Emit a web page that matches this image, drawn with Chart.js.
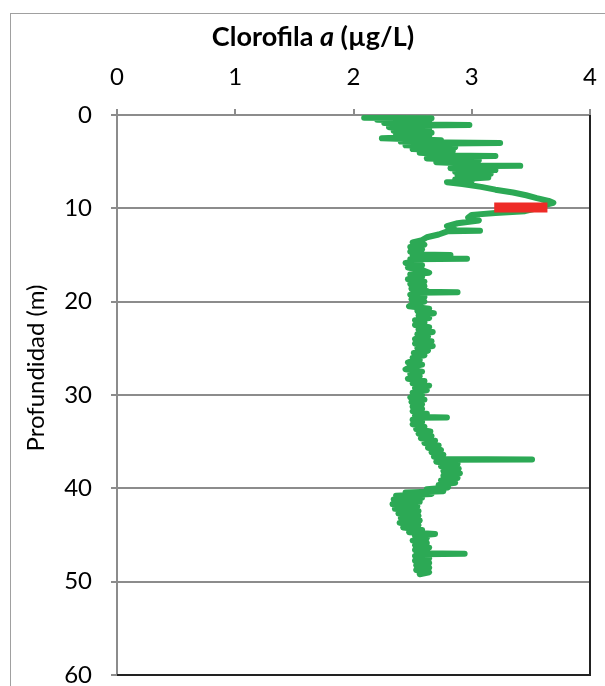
<!DOCTYPE html>
<html>
<head>
<meta charset="utf-8">
<script src="https://cdn.jsdelivr.net/npm/chart.js@4.4.1/dist/chart.umd.min.js"></script>
<style>
  html, body { margin: 0; padding: 0; background: #fff; overflow: hidden; }
  #wrap { width: 605px; height: 686px; }
  canvas { display: block; }
</style>
</head>
<body>
<div id="wrap"><canvas id="profileChart" width="605" height="686"></canvas></div>
<script>
// depth profile (m) and chlorophyll a (ug/L) top to bottom
const depthM = [
  0.30, 0.35, 0.50, 0.70, 0.85, 1.02, 1.07, 1.12, 1.30, 1.50,
  1.70, 1.90, 2.10, 2.30, 2.50, 2.70, 2.85, 2.95, 3.00, 3.05,
  3.25, 3.45, 3.65, 3.85, 4.05, 4.25, 4.35, 4.40, 4.45, 4.65,
  4.85, 5.05, 5.25, 5.40, 5.45, 5.50, 5.70, 5.90, 6.10, 6.30,
  6.50, 6.70, 6.90, 7.10, 7.20, 7.40, 7.70, 8.00, 8.30, 8.60,
  8.90, 9.20, 9.40, 9.70, 10.0, 10.3, 10.5, 10.7, 11.0, 11.3,
  11.6, 11.9, 12.2, 12.35, 12.4, 12.45, 12.8, 13.1, 13.4, 13.65,
  13.9, 14.15, 14.4, 14.65, 14.95, 15.0, 15.05, 15.2, 15.35, 15.4,
  15.45, 15.65, 15.85, 16.1, 16.35, 16.6, 16.9, 17.1, 17.35, 17.6,
  17.85, 18.1, 18.35, 18.6, 18.85, 18.95, 19.0, 19.05, 19.25, 19.5,
  19.75, 20.0, 20.25, 20.5, 20.75, 21.0, 21.25, 21.5, 21.75, 22.0,
  22.25, 22.5, 22.75, 23.0, 23.25, 23.5, 23.75, 24.0, 24.25, 24.5,
  24.75, 25.0, 25.25, 25.5, 25.75, 26.0, 26.25, 26.5, 26.75, 27.0,
  27.25, 27.5, 27.75, 28.0, 28.25, 28.5, 28.75, 29.0, 29.25, 29.5,
  29.75, 30.0, 30.25, 30.5, 30.75, 31.0, 31.25, 31.5, 31.75, 32.0,
  32.2, 32.35, 32.4, 32.45, 32.65, 32.9, 33.15, 33.4, 33.65, 33.9,
  34.15, 34.4, 34.65, 34.9, 35.15, 35.4, 35.65, 35.9, 36.15, 36.4,
  36.6, 36.85, 36.9, 36.95, 37.15, 37.4, 37.65, 37.9, 38.15, 38.4,
  38.65, 38.9, 39.15, 39.4, 39.65, 39.9, 40.1, 40.3, 40.45, 40.6,
  40.8, 41.0, 41.2, 41.45, 41.7, 41.95, 42.2, 42.45, 42.7, 42.95,
  43.2, 43.45, 43.7, 43.95, 44.2, 44.45, 44.7, 44.9, 45.1, 45.35,
  45.6, 45.85, 46.1, 46.35, 46.6, 46.85, 46.95, 47.0, 47.05, 47.25,
  47.5, 47.75, 48.0, 48.25, 48.5, 48.75, 49.0, 49.2
]
const chlA = [
  2.09, 2.66, 2.20, 2.64, 2.26, 2.60, 2.98, 2.58, 2.30, 2.64,
  2.34, 2.66, 2.36, 2.64, 2.24, 2.74, 2.40, 2.80, 3.24, 2.80,
  2.44, 2.86, 2.50, 2.84, 2.56, 2.82, 2.78, 3.20, 2.78, 2.62,
  3.06, 2.70, 3.04, 2.95, 3.41, 2.95, 2.82, 3.20, 2.86, 3.16,
  2.88, 3.14, 2.86, 3.00, 2.79, 2.92, 3.08, 3.20, 3.35, 3.46,
  3.55, 3.65, 3.69, 3.60, 3.55, 3.45, 3.20, 3.00, 2.97, 3.06,
  2.88, 2.79, 2.85, 2.84, 3.07, 2.80, 2.72, 2.62, 2.58, 2.50,
  2.60, 2.48, 2.58, 2.48, 2.55, 2.82, 2.50, 2.56, 2.50, 2.96,
  2.48, 2.56, 2.44, 2.58, 2.46, 2.58, 2.64, 2.48, 2.58, 2.46,
  2.60, 2.48, 2.60, 2.49, 2.62, 2.58, 2.88, 2.54, 2.48, 2.60,
  2.49, 2.60, 2.50, 2.47, 2.64, 2.54, 2.68, 2.55, 2.64, 2.52,
  2.60, 2.52, 2.64, 2.55, 2.67, 2.54, 2.63, 2.52, 2.66, 2.52,
  2.67, 2.54, 2.63, 2.51, 2.60, 2.50, 2.56, 2.46, 2.58, 2.48,
  2.44, 2.58, 2.48, 2.56, 2.46, 2.60, 2.50, 2.64, 2.52, 2.62,
  2.50, 2.58, 2.48, 2.60, 2.49, 2.58, 2.50, 2.58, 2.50, 2.62,
  2.52, 2.58, 2.79, 2.55, 2.50, 2.58, 2.50, 2.60, 2.53, 2.65,
  2.55, 2.66, 2.57, 2.69, 2.60, 2.72, 2.63, 2.74, 2.66, 2.76,
  2.68, 2.74, 3.51, 2.78, 2.70, 2.88, 2.74, 2.89, 2.76, 2.90,
  2.76, 2.88, 2.74, 2.86, 2.72, 2.80, 2.62, 2.76, 2.44, 2.66,
  2.36, 2.58, 2.34, 2.56, 2.33, 2.54, 2.35, 2.55, 2.38, 2.55,
  2.40, 2.56, 2.39, 2.55, 2.42, 2.58, 2.47, 2.69, 2.52, 2.62,
  2.50, 2.62, 2.52, 2.64, 2.52, 2.62, 2.56, 2.94, 2.58, 2.52,
  2.64, 2.52, 2.64, 2.53, 2.64, 2.53, 2.64, 2.56
]
// red marker (chlorophyll maximum layer)
const markDepth = [9.9, 9.9]
const markChl = [3.19, 3.64]

const xTicks = [0, 1, 2, 3, 4]
const yTicks = [0, 10, 20, 30, 40, 50, 60]

const FONT = 'Lato, "Open Sans", sans-serif'

const toPoints = (xs, ys) => xs.map((x, i) => ({ x: x, y: ys[i] }))

// fixed box sizes so the plot area lands where it is in the original
const noPad = s => { s.paddingLeft = 0; s.paddingRight = 0; s.paddingTop = 0; s.paddingBottom = 0 }

const frame = {
  id: 'frame',
  beforeDraw(chart) {
    const ctx = chart.ctx
    ctx.save()
    ctx.fillStyle = '#fff'
    ctx.fillRect(0, 0, chart.width, chart.height)
    ctx.strokeStyle = '#a0a0a0'
    ctx.lineWidth = 1
    ctx.strokeRect(10.5, 13.5, 700, 800)
    ctx.restore()
  },
  afterDraw(chart) {
    const ctx = chart.ctx
    const a = chart.chartArea
    ctx.save()
    ctx.strokeStyle = '#222'
    ctx.lineWidth = 2
    ctx.beginPath()
    ctx.moveTo(a.right, a.top)
    ctx.lineTo(a.right, a.bottom)
    ctx.lineTo(a.left, a.bottom)
    ctx.stroke()

    // chart title with italic "a"
    ctx.fillStyle = '#000'
    ctx.textBaseline = 'middle'
    const parts = [['Clorofila ', 'bold'], ['a', 'italic bold'], [' (µg/L)', 'bold']]
    let total = 0
    parts.forEach(p => { ctx.font = p[1] + ' 27px ' + FONT; total += ctx.measureText(p[0]).width })
    let x = 313 - total / 2
    parts.forEach(p => {
      ctx.font = p[1] + ' 27px ' + FONT
      ctx.fillText(p[0], x, 37)
      x += ctx.measureText(p[0]).width
    })

    // y title
    ctx.translate(36, 368)
    ctx.rotate(-Math.PI / 2)
    ctx.textAlign = 'center'
    ctx.font = '24px ' + FONT
    ctx.fillText('Profundidad (m)', 0, 0)
    ctx.restore()
  }
}

new Chart(document.getElementById('profileChart'), {
  type: 'scatter',
  data: {
    datasets: [
      {
        label: 'Máximo',
        data: toPoints(markChl, markDepth),
        showLine: true,
        borderColor: '#ee2b27',
        borderWidth: 10,
        borderCapStyle: 'butt',
        pointRadius: 0
      },
      {
        label: 'Clorofila a',
        data: toPoints(chlA, depthM),
        showLine: true,
        borderColor: '#2ca955',
        borderWidth: 6,
        borderCapStyle: 'round',
        borderJoinStyle: 'round',
        pointRadius: 0,
        tension: 0
      }
    ]
  },
  options: {
    responsive: false,
    animation: false,
    devicePixelRatio: 1,
    layout: { padding: { left: 20, top: 0, right: 15, bottom: 11 } },
    plugins: {
      legend: { display: false },
      tooltip: { enabled: false }
    },
    scales: {
      x: {
        type: 'linear',
        position: 'top',
        min: 0,
        max: 4,
        afterBuildTicks: s => { s.ticks = xTicks.map(v => ({ value: v })) },
        afterFit: s => { s.height = 115; noPad(s) },
        ticks: { color: '#000', font: { family: FONT, size: 24 }, padding: 17 },
        grid: { drawOnChartArea: false, tickLength: 6, tickColor: '#8c8c8c', lineWidth: 2 },
        border: { color: '#8c8c8c', width: 2 }
      },
      y: {
        type: 'linear',
        reverse: true,
        min: 0,
        max: 60,
        afterBuildTicks: s => { s.ticks = yTicks.map(v => ({ value: v })) },
        afterFit: s => { s.width = 97; noPad(s) },
        ticks: { color: '#000', font: { family: FONT, size: 24 }, padding: 19 },
        grid: { color: '#8c8c8c', lineWidth: 2, tickLength: 6, tickColor: '#8c8c8c' },
        border: { color: '#8c8c8c', width: 2 }
      }
    }
  },
  plugins: [frame]
})
</script>
</body>
</html>
